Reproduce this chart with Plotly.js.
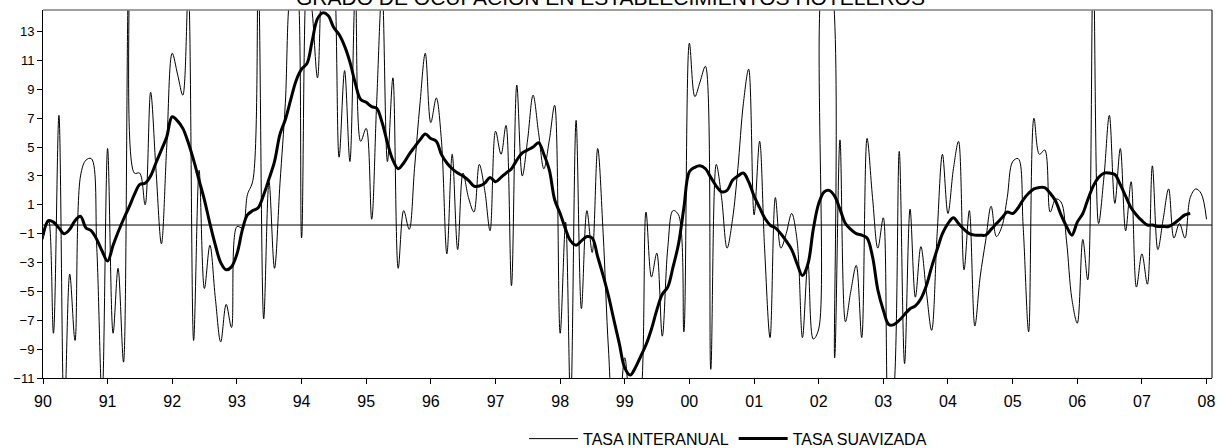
<!DOCTYPE html>
<html><head><meta charset="utf-8">
<script src="https://cdn.plot.ly/plotly-3.0.1.min.js"></script>
<style>html,body{margin:0;padding:0;background:#fff}#chart{width:1221px;height:448px}</style>
</head><body><div id="chart"></div>
<script>
const START_YEAR = 1990;
const tasaInteranual = [
 -1.4, 0.0, -7.9, 7.2, -14, -3.8, -8.4, 3.0, 4.1, 4.2, -2, -12.5,
 4.9, -7.9, -3.4, -9.9, 17, 3.2, 3.2, 1.0, 8.8, 3.5, -1.7, 5,
 11.5, 10, 8.6, 16, -8.4, 3.4, -4.8, -1.8, -5.5, -8.5, -5.9, -7.5,
 -0.5, -0.6, 1.7, 2.7, 17, -6.9, 2.6, -3.4, 2.5, 8, 16, 17,
 -1.3, 17, 14.5, 9.8, 18, 20, 18, 4.3, 10.3, 4.0, 16, 5.4,
 6.3, 0.0, 8, 16, 4, 9.8, -3.4, 0.6, -0.7, 3.5, 8, 11.5,
 6.7, 8.4, 5.5, -2.4, 4.5, -2.1, 3.2, 1.5, 0.5, 3.8, 2, -0.8,
 6.1, 4.5, 6.5, -4.6, 9.3, 3.0, 5.5, 8.6, 6, 3.5, 5.5, 7.9,
 -7.9, -0.2, -13, 6.85, -6.2, 0.6, -2.3, 4.9, -1, -9, -14, -13,
 -9.6, -13, -14, -12.5, 0.5, -4.0, -2.35, -8.1, -2, 0.6, 0.3, -7.8,
 12.2, 8.5, 9.5, 10.6, -10.4, 3.8, 1.5, -2.0, 0, 3.5, 8, 10.4,
 0.3, 5.4, -2, -8.2, 1.5, -2.0, -1.0, 0.4, -1.5, -8.2, -3, -8.3,
 -7.6, 17, 17, -9.6, 5.5, -7.1, -5, -3.2, -8.2, 5.6, 1.5, -2.0,
 0.1, -14, -12, 4.7, -10.0, 0.7, -5.4, -1.9, -5, -7.7, -1, 4.5,
 0.4, 3.5, 5.4, -3.5, 0.6, -7.4, -4, -1.5, 0.9, -1.2, -0.5, 1.5,
 4.0, 4.2, -0.5, -7.8, 7.0, 4.5, 4.8, 0.5, 1.4, 1.2, -1.5, -5.5,
 -7.2, -1.4, -4.2, 18, -0.3, 3, 7.2, 1.1, 4.9, -0.8, 2.6, -4.7,
 -2.4, -4.5, 3.7, -2.1, 0, 2.1, -1.3, -0.3, -1.3, 1.5, 2.1, 1.8,
 0.0
];
const tasaSuavizada = [
 -1.1, -0.1, -0.2, -0.6, -1.0, -0.7, -0.1, 0.2, -0.6, -0.8, -1.4, -2.2,
 -2.9, -1.8, -0.9, 0.0, 0.8, 1.7, 2.4, 2.5, 3.0, 3.9, 4.8, 5.7,
 7.1, 6.8, 6.3, 5.3, 4.1, 2.7, 1.35, -0.3, -1.8, -3.0, -3.5, -3.3,
 -2.4, -0.7, 0.3, 0.6, 0.8, 1.7, 2.8, 4.0, 5.9, 6.9, 8.3, 9.6,
 10.4, 10.8, 12.3, 13.9, 14.3, 14.1, 13.3, 12.8, 12.0, 10.9, 9.4, 8.3,
 8.1, 7.8, 7.7, 6.7, 5.3, 4.1, 3.5, 3.9, 4.5, 5.0, 5.5, 5.9,
 5.6, 5.4, 4.5, 3.9, 3.5, 3.2, 3.0, 2.7, 2.3, 2.3, 2.5, 2.9,
 2.6, 2.9, 3.2, 3.5, 4.1, 4.6, 4.8, 5.0, 5.3, 4.5, 3.4, 1.35,
 0.4, -0.7, -1.5, -1.8, -1.5, -1.2, -1.3, -2.6, -3.9, -5.3, -7.0, -8.6,
 -10.3, -10.8, -10.3, -9.5, -8.7, -7.6, -6.3, -5.2, -4.7, -3.3, -1.7, 0.8,
 3.3, 3.6, 3.7, 3.5, 2.9, 2.3, 1.9, 2.0, 2.7, 3.0, 3.2, 2.6,
 1.6, 0.8, 0.1, -0.4, -0.6, -1.0, -1.5, -2.1, -3.1, -3.9, -3.1, -0.7,
 1.1, 1.9, 2.0, 1.6, 0.7, -0.3, -0.7, -1.0, -1.1, -1.3, -2.6, -4.9,
 -6.3, -7.3, -7.3, -7.0, -6.6, -6.2, -6.0, -5.5, -4.6, -3.3, -2.1, -1.0,
 -0.3, 0.1, -0.3, -0.7, -1.0, -1.1, -1.1, -1.1, -0.7, -0.3, 0.1, 0.5,
 0.4, 0.8, 1.35, 1.8, 2.1, 2.2, 2.2, 1.8, 1.25, 0.3, -0.5, -1.1,
 -0.2, 0.4, 1.35, 2.3, 2.9, 3.2, 3.2, 3.1, 2.4, 1.6, 0.8, 0.3,
 -0.1, -0.4, -0.4, -0.5, -0.5, -0.5, -0.3, 0.0, 0.3, 0.4
];
const referenceLevel = -0.4;
const yTickValues = [-11, -9, -7, -5, -3, -1, 1, 3, 5, 7, 9, 11, 13];
const xTickYears = [1990,1991,1992,1993,1994,1995,1996,1997,1998,1999,2000,2001,2002,2003,2004,2005,2006,2007,2008];
const xTickLabels = ['90','91','92','93','94','95','96','97','98','99','00','01','02','03','04','05','06','07','08'];
const chartTitle = 'GRADO DE OCUPACIÓN EN ESTABLECIMIENTOS HOTELEROS';
const seriesNames = ['TASA INTERANUAL', 'TASA SUAVIZADA'];

function monthDate(i) {
  const y = START_YEAR + Math.floor(i / 12);
  const m = (i % 12) + 1;
  return y + '-' + String(m).padStart(2, '0') + '-01';
}
const xThin = tasaInteranual.map((_, i) => monthDate(i));
const xSmooth = tasaSuavizada.map((_, i) => monthDate(i));
const xTickVals = xTickYears.map(y => y + '-01-01');

const FONT = 'Liberation Sans, Arial, sans-serif';

const traces = [
  {x: xThin, y: tasaInteranual, type: 'scatter', mode: 'lines', name: seriesNames[0],
   line: {color: '#000', width: 1, shape: 'spline', smoothing: 1}},
  {x: xSmooth, y: tasaSuavizada, type: 'scatter', mode: 'lines', name: seriesNames[1],
   line: {color: '#000', width: 3, shape: 'spline', smoothing: 1}}
];

const layout = {
  width: 1221, height: 448,
  margin: {l: 43, r: 9, t: 10, b: 70, autoexpand: false},
  paper_bgcolor: '#fff', plot_bgcolor: '#fff',
  font: {family: FONT, color: '#000'},
  title: {text: chartTitle, font: {family: FONT, size: 21, color: '#000'},
          x: 0.5, xref: 'container', xanchor: 'center',
          y: 1 - 5 / 448, yref: 'container', yanchor: 'bottom'},
  showlegend: true,
  legend: {orientation: 'h', x: 0.4115, xanchor: 'left', y: -0.165, yanchor: 'middle',
           itemwidth: 49,
           font: {family: FONT, size: 16, color: '#000'}, bgcolor: 'rgba(0,0,0,0)'},
  xaxis: {type: 'date', range: ['1990-01-01', '2008-02-01'],
          tickvals: xTickVals, ticktext: xTickLabels,
          ticks: 'outside', ticklen: 5, tickcolor: '#000', tickwidth: 1,
          ticklabelstandoff: 4,
          showline: true, linecolor: '#000', linewidth: 1,
          showgrid: false, zeroline: false,
          tickfont: {family: FONT, size: 16, color: '#000'}},
  yaxis: {range: [-11, 14.5], tickvals: yTickValues,
          ticks: 'outside', ticklen: 5, tickcolor: '#000', tickwidth: 1,
          showline: true, linecolor: '#000', linewidth: 1,
          showgrid: false, zeroline: false,
          tickfont: {family: FONT, size: 13, color: '#000'}},
  shapes: [
    {type: 'line', xref: 'paper', x0: 0, x1: 1, yref: 'y', y0: referenceLevel, y1: referenceLevel,
     line: {color: '#000', width: 1}},
    {type: 'line', xref: 'paper', x0: 0, x1: 1, yref: 'paper', y0: 1, y1: 1,
     line: {color: '#808080', width: 1.5}},
    {type: 'line', xref: 'paper', x0: 1, x1: 1, yref: 'paper', y0: 0, y1: 1,
     line: {color: '#000', width: 1}}
  ]
};

Plotly.newPlot('chart', traces, layout, {displayModeBar: false, staticPlot: true});
</script>
</body></html>
